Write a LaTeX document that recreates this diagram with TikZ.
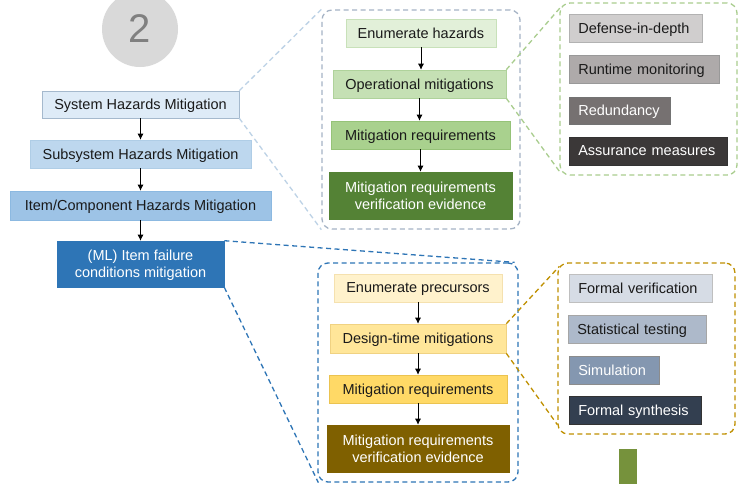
\documentclass[tikz,border=0pt]{standalone}
\usepackage{fontspec}
\setmainfont{Liberation Sans}
\usetikzlibrary{arrows.meta}
\definecolor{txt}{HTML}{1A1A1A}
\definecolor{sysF}{RGB}{222,235,247}\definecolor{sysD}{RGB}{165,185,205}
\definecolor{subF}{RGB}{189,215,238}\definecolor{subD}{RGB}{175,205,230}
\definecolor{itmF}{RGB}{157,195,230}\definecolor{itmD}{RGB}{140,185,225}
\definecolor{mlF}{RGB}{46,117,182}
\definecolor{c1D}{RGB}{165,179,197}\definecolor{c2D}{RGB}{169,205,142}
\definecolor{c4D}{RGB}{191,144,0}\definecolor{p1D}{RGB}{189,210,230}
\definecolor{enhF}{RGB}{226,240,217}\definecolor{enhD}{RGB}{200,225,185}
\definecolor{opmF}{RGB}{197,224,180}\definecolor{opmD}{RGB}{175,210,155}
\definecolor{mr1F}{RGB}{169,209,142}\definecolor{mr1D}{RGB}{150,195,120}
\definecolor{ve1F}{RGB}{84,130,53}
\definecolor{enpF}{RGB}{255,242,204}\definecolor{enpD}{RGB}{245,225,175}
\definecolor{dtmF}{RGB}{255,230,153}\definecolor{dtmD}{RGB}{240,210,130}
\definecolor{mr2F}{RGB}{255,217,102}\definecolor{mr2D}{RGB}{235,195,80}
\definecolor{ve2F}{RGB}{127,96,0}
\definecolor{d1F}{RGB}{208,206,206}\definecolor{d2F}{RGB}{174,170,170}
\definecolor{d3F}{RGB}{118,113,113}\definecolor{d4F}{RGB}{59,56,56}
\definecolor{f1F}{RGB}{214,220,229}\definecolor{f2F}{RGB}{173,185,202}
\definecolor{f3F}{RGB}{132,151,176}\definecolor{f4F}{RGB}{51,63,80}
\definecolor{barF}{RGB}{118,146,60}
\begin{document}
\begin{tikzpicture}[x=1pt,y=-1pt,
  every node/.style={font=\fontsize{14.5}{17}\selectfont, text=txt},
  box/.style={draw=#1, line width=0.6pt, inner sep=0pt, align=center, text depth=0pt},
  lbox/.style={draw=#1, line width=0.6pt, inner xsep=9pt, inner ysep=0pt, anchor=west, align=left, text depth=0pt},
  cont/.style={draw=#1, dash pattern=on 5pt off 3.5pt, line width=1.3pt, rounded corners=10pt, inner sep=0pt},
  proj/.style={draw=#1, dash pattern=on 5pt off 3.5pt, line width=1.3pt},
  arr/.style={-{Latex[length=6pt,width=6pt]}, line width=0.7pt, black}
]
\useasboundingbox (0,0) rectangle (744,483);
\fill[white] (0,0) rectangle (744,483);

% number circle
\node[circle, fill=black!15, minimum size=76pt, inner sep=0pt, text=black!50,
  font=\fontsize{40}{40}\selectfont] (num) at (140,29) {2};

% left chain
\node[box=sysD, fill=sysF, minimum width=197pt, minimum height=27pt] (sys) at (140.5,104.5) {System Hazards Mitigation};
\node[box=subD, fill=subF, minimum width=221pt, minimum height=28pt] (sub) at (140.5,154) {Subsystem Hazards Mitigation};
\node[box=itmD, fill=itmF, minimum width=261pt, minimum height=29pt] (itm) at (140.5,205.5) {Item/Component Hazards Mitigation};
\node[box=mlF, fill=mlF, text=white, minimum width=167pt, minimum height=46pt] (ml) at (140.5,264) {(ML) Item failure\\conditions mitigation};
\draw[arr] (sys) -- (sub);
\draw[arr] (sub) -- (itm);
\draw[arr] (itm) -- (ml);

% containers
\node[cont=c1D, minimum width=198pt, minimum height=219pt] (c1) at (421,119.5) {};
\node[cont=c2D, minimum width=177pt, minimum height=172pt] (c2) at (648.5,89) {};
\node[cont=mlF, minimum width=200pt, minimum height=219pt] (c3) at (418,372.5) {};
\node[cont=c4D, minimum width=177pt, minimum height=171pt] (c4) at (646.5,348.5) {};

% upper flow
\node[box=enhD, fill=enhF, minimum width=150pt, minimum height=28pt] (enh) at (421,33) {Enumerate hazards};
\node[box=opmD, fill=opmF, minimum width=173pt, minimum height=28pt] (opm) at (419.5,84) {Operational mitigations};
\node[box=mr1D, fill=mr1F, minimum width=179pt, minimum height=28pt] (mr1) at (420.5,135) {Mitigation requirements};
\node[box=ve1F, fill=ve1F, text=white, minimum width=183pt, minimum height=47pt] (ve1) at (420.5,195.5) {Mitigation requirements\\verification evidence};
\draw[arr] (enh) -- (enh|-opm.north);
\draw[arr] (opm) -- (opm|-mr1.north);
\draw[arr] (mr1) -- (mr1|-ve1.north);

% lower flow
\node[box=enpD, fill=enpF, minimum width=168pt, minimum height=28pt] (enp) at (418,288) {Enumerate precursors};
\node[box=dtmD, fill=dtmF, minimum width=176pt, minimum height=29pt] (dtm) at (418,338.5) {Design-time mitigations};
\node[box=mr2D, fill=mr2F, minimum width=178pt, minimum height=28pt] (mr2) at (418,389) {Mitigation requirements};
\node[box=ve2F, fill=ve2F, text=white, minimum width=182pt, minimum height=47pt] (ve2) at (418,448.5) {Mitigation requirements\\verification evidence};
\draw[arr] (enp) -- (dtm);
\draw[arr] (dtm) -- (mr2);
\draw[arr] (mr2) -- (ve2);

% operational list
\node[lbox=black!30, fill=d1F, text width=115pt, minimum height=28pt] (d1) at (569,28) {Defense-in-depth};
\node[lbox=black!40, fill=d2F, text width=132pt, minimum height=28pt] (d2) at (569,69) {Runtime monitoring};
\node[lbox=black!55, fill=d3F, text=white, text width=83pt, minimum height=27pt] (d3) at (569,110.5) {Redundancy};
\node[lbox=black!80, fill=d4F, text=white, text width=140pt, minimum height=28pt] (d4) at (569,151) {Assurance measures};

% design-time list
\node[lbox=black!25, fill=f1F, text width=125pt, minimum height=28pt] (f1) at (569,288) {Formal verification};
\node[lbox=black!35, fill=f2F, text width=120pt, minimum height=28pt] (f2) at (568,329) {Statistical testing};
\node[lbox=black!45, fill=f3F, text=white, text width=72pt, minimum height=28pt] (f3) at (569,370) {Simulation};
\node[lbox=black!80, fill=f4F, text=white, text width=114pt, minimum height=28pt] (f4) at (569,410) {Formal synthesis};

% green bar
\node[fill=barF, minimum width=18pt, minimum height=36pt, inner sep=0pt] (bar) at (628,467) {};

% projection lines
\draw[proj=p1D] (sys.north east) -- (c1.north west);
\draw[proj=p1D] (sys.south east) -- (c1.south west);
\draw[proj=c2D] (opm.north east) -- ([shift={(2pt,-4pt)}]c2.north west);
\draw[proj=c2D] (opm.south east) -- ([shift={(1pt,3pt)}]c2.south west);
\draw[proj=mlF] (ml.north east) -- ([xshift=-4pt]c3.north east);
\draw[proj=mlF] (ml.south east) -- ([xshift=1pt]c3.south west);
\draw[proj=c4D] (dtm.north east) -- ([shift={(2pt,-4pt)}]c4.north west);
\draw[proj=c4D] (dtm.south east) -- ([yshift=10pt]c4.south west);
\end{tikzpicture}
\end{document}
